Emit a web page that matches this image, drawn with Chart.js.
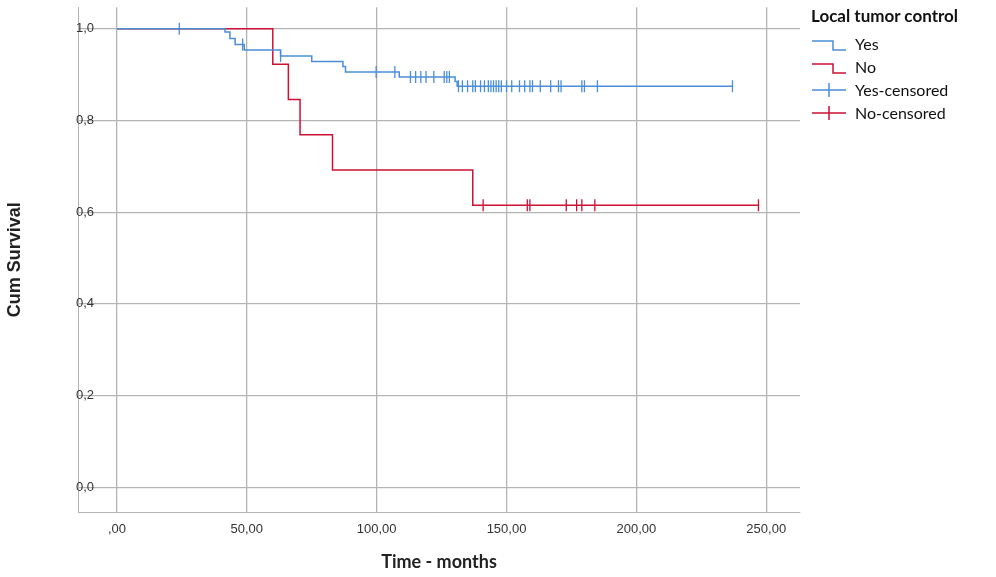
<!DOCTYPE html>
<html><head><meta charset="utf-8">
<script src="https://cdn.jsdelivr.net/npm/chart.js@4"></script>
<style>
body{margin:0;background:#fff;}
#wrap{position:relative;width:996px;height:577px;}
#legend{position:absolute;left:811px;top:5px;font-family:Lato,"Open Sans",sans-serif;color:#111;}
#legend .t{font-weight:bold;font-size:17px;margin-bottom:6px;}
#legend .i{display:flex;align-items:center;height:23px;font-size:16px;}
#legend svg{margin-right:8px;}
</style></head><body>
<div id="wrap"><canvas id="c" width="996" height="577"></canvas>
<div id="legend">
<div class="t">Local tumor control</div>
<div class="i"><svg width="36" height="16"><path d="M1 5 H22 V14 H35" fill="none" stroke="#4a8ed8" stroke-width="1.5"/></svg>Yes</div>
<div class="i"><svg width="36" height="16"><path d="M1 5 H22 V14 H35" fill="none" stroke="#cc1133" stroke-width="1.5"/></svg>No</div>
<div class="i"><svg width="36" height="16"><path d="M1 8 H35 M18 1 V15" fill="none" stroke="#4a8ed8" stroke-width="1.5"/></svg>Yes-censored</div>
<div class="i"><svg width="36" height="16"><path d="M1 8 H35 M18 1 V15" fill="none" stroke="#cc1133" stroke-width="1.5"/></svg>No-censored</div>
</div></div>
<script>
const yesTimes=[0,41.6,43.5,45.5,49,63,75,87,88,108.7,130.2,131,237];
const yesSurv=[1,0.993,0.979,0.966,0.954,0.941,0.929,0.918,0.906,0.895,0.885,0.875,0.875];
const noTimes=[0,60,66,70.5,83,137,247];
const noSurv=[1,0.923,0.846,0.769,0.692,0.615,0.615];
const yesCensT=[24,48.4,63,99.8,107,113,115,117,119,122,126,127,128,131.5,133,135,137,138,140,141.5,143,144,145,146,147,148,150,152,155,157,159,160,163,167,170,171,179,180,185,237];
const noCensT=[141,158,159,173,177,179,184,247];
const xTicks=[0,50,100,150,200,250];
const yTicks=[0,0.2,0.4,0.6,0.8,1.0];
function survAt(ts,ss,t){let v=ss[0];for(let i=0;i<ts.length;i++){if(ts[i]<=t)v=ss[i];}return v;}
const BLUE='#4a8ed8',RED='#cc1133';
const yesCens=yesCensT.map(t=>({x:t,y:survAt(yesTimes,yesSurv,t)}));
const noCens=noCensT.map(t=>({x:t,y:survAt(noTimes,noSurv,t)}));
const line=(ts,ss)=>ts.map((t,i)=>({x:t,y:ss[i]}));
new Chart(document.getElementById('c'),{
type:'scatter',
data:{datasets:[
{type:'line',data:line(yesTimes,yesSurv),borderColor:BLUE,borderWidth:1.5,stepped:'before',pointRadius:0,fill:false},
{type:'line',data:line(noTimes,noSurv),borderColor:RED,borderWidth:1.5,stepped:'before',pointRadius:0,fill:false},
{data:yesCens,pointStyle:'line',rotation:90,radius:6,borderColor:BLUE,borderWidth:1.3,backgroundColor:BLUE},
{data:noCens,pointStyle:'line',rotation:90,radius:6,borderColor:RED,borderWidth:1.3,backgroundColor:RED}
]},
options:{responsive:false,animation:false,
layout:{padding:{left:0,right:196,top:-15,bottom:0}},
plugins:{legend:{display:false},tooltip:{enabled:false}},
scales:{
x:{type:'linear',min:-15,max:263,
afterBuildTicks(s){s.ticks=xTicks.map(v=>({value:v}));},
afterFit(s){s.height=65;},
grid:{color:'#b4b4b4',drawTicks:false,lineWidth:1.3},border:{color:'#b4b4b4'},
ticks:{padding:10,color:'#333',font:{family:'Liberation Sans',size:13},callback:v=>v===0?',00':v.toFixed(2).replace('.',',')},
title:{display:true,text:'Time - months',color:'#222',font:{family:'Lato',size:18,weight:'bold'},padding:{top:8}}},
y:{min:-0.054,max:1.047,
afterBuildTicks(s){s.ticks=yTicks.map(v=>({value:v}));},
afterFit(s){s.width=78;},
grid:{color:'#b4b4b4',drawTicks:false,lineWidth:1.3},border:{color:'#b4b4b4'},
ticks:{mirror:true,padding:-2,color:'#333',font:{family:'Liberation Sans',size:13},callback:v=>v.toFixed(1).replace('.',',')},
title:{display:true,text:'Cum Survival',color:'#222',font:{family:'Liberation Sans',size:18,weight:'bold'},padding:{bottom:4}}}
}}
});
</script></body></html>
